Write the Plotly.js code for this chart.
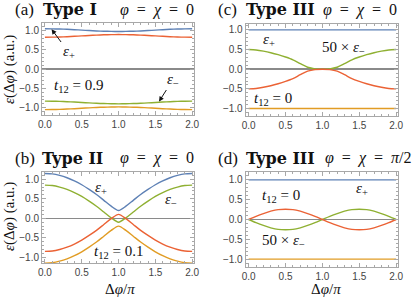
<!DOCTYPE html>
<html><head><meta charset="utf-8">
<script src="https://cdn.plot.ly/plotly-3.0.1.min.js"></script>
<style>html,body{margin:0;padding:0;background:#fff}#chart{width:415px;height:297px}</style>
</head><body><div id="chart"></div>
<script>
// shared x grid (Δφ/π)
const xs = [0,0.1,0.2,0.3,0.4,0.5,0.6,0.7,0.8,0.9,1.0,1.1,1.2,1.3,1.4,1.5,1.6,1.7,1.8,1.9,2.0];

// (a) Type I, t12 = 0.9
const aBlue   = [1.05,1.048,1.043,1.036,1.026,1.015,1.004,0.994,0.987,0.982,0.98,0.982,0.987,0.994,1.004,1.015,1.026,1.036,1.043,1.048,1.05];
const aRed    = [0.83,0.832,0.837,0.844,0.854,0.865,0.876,0.886,0.893,0.898,0.90,0.898,0.893,0.886,0.876,0.865,0.854,0.844,0.837,0.832,0.83];
const aGreen  = [-0.83,-0.832,-0.837,-0.844,-0.854,-0.865,-0.876,-0.886,-0.893,-0.898,-0.90,-0.898,-0.893,-0.886,-0.876,-0.865,-0.854,-0.844,-0.837,-0.832,-0.83];
const aOrange = [-1.05,-1.048,-1.043,-1.036,-1.026,-1.015,-1.004,-0.994,-0.987,-0.982,-0.98,-0.982,-0.987,-0.994,-1.004,-1.015,-1.026,-1.036,-1.043,-1.048,-1.05];

// (b) Type II, t12 = 0.1
const bBlue   = [1.15,1.14,1.10,1.04,0.96,0.86,0.74,0.61,0.46,0.31,0.20,0.31,0.46,0.61,0.74,0.86,0.96,1.04,1.10,1.14,1.15];
const bGreen  = [0.85,0.84,0.80,0.74,0.66,0.56,0.44,0.31,0.16,0.01,-0.10,0.01,0.16,0.31,0.44,0.56,0.66,0.74,0.80,0.84,0.85];
const bRed    = [-0.85,-0.84,-0.80,-0.74,-0.66,-0.56,-0.44,-0.31,-0.16,-0.01,0.10,-0.01,-0.16,-0.31,-0.44,-0.56,-0.66,-0.74,-0.80,-0.84,-0.85];
const bOrange = [-1.15,-1.14,-1.10,-1.04,-0.96,-0.86,-0.74,-0.61,-0.46,-0.31,-0.20,-0.31,-0.46,-0.61,-0.74,-0.86,-0.96,-1.04,-1.10,-1.14,-1.15];

// (c) Type III, φ = χ = 0, t12 = 0 (green/red are 50 × ε−)
const cBlue   = [1,1,1,1,1,1,1,1,1,1,1,1,1,1,1,1,1,1,1,1,1];
const cGreen  = [0.50,0.49,0.46,0.42,0.37,0.31,0.24,0.14,0.05,0.01,0.00,0.01,0.05,0.14,0.24,0.31,0.37,0.42,0.46,0.49,0.50];
const cRed    = [-0.50,-0.49,-0.46,-0.42,-0.37,-0.31,-0.24,-0.14,-0.05,-0.01,0.00,-0.01,-0.05,-0.14,-0.24,-0.31,-0.37,-0.42,-0.46,-0.49,-0.50];
const cOrange = [-1,-1,-1,-1,-1,-1,-1,-1,-1,-1,-1,-1,-1,-1,-1,-1,-1,-1,-1,-1,-1];

// (d) Type III, φ = χ = π/2, t12 = 0
const dBlue   = [1,1,1,1,1,1,1,1,1,1,1,1,1,1,1,1,1,1,1,1,1];
const dRed    = [0,0.08,0.15,0.21,0.25,0.26,0.25,0.21,0.15,0.08,0,-0.08,-0.15,-0.21,-0.25,-0.26,-0.25,-0.21,-0.15,-0.08,0];
const dGreen  = [0,-0.08,-0.15,-0.21,-0.25,-0.26,-0.25,-0.21,-0.15,-0.08,0,0.08,0.15,0.21,0.25,0.26,0.25,0.21,0.15,0.08,0];
const dOrange = [-1,-1,-1,-1,-1,-1,-1,-1,-1,-1,-1,-1,-1,-1,-1,-1,-1,-1,-1,-1,-1];

const tickVals = [-1.0,-0.5,0.0,0.5,1.0];
const xTickVals = [0.0,0.5,1.0,1.5,2.0];

const COL = {blue:'#5E81B5', orange:'#E19C24', green:'#8FB032', red:'#EB6235'};

function tr(y, color, xa, ya){
  return {x: xs, y: y, xaxis: xa, yaxis: ya, type:'scatter', mode:'lines',
          line:{color: color, width:1.4, shape:'spline', smoothing:0.8}, hoverinfo:'skip', showlegend:false};
}
const data = [
  tr(aBlue,COL.blue,'x','y'), tr(aOrange,COL.orange,'x','y'), tr(aGreen,COL.green,'x','y'), tr(aRed,COL.red,'x','y'),
  tr(cBlue,COL.blue,'x2','y2'), tr(cOrange,COL.orange,'x2','y2'), tr(cGreen,COL.green,'x2','y2'), tr(cRed,COL.red,'x2','y2'),
  tr(bBlue,COL.blue,'x3','y3'), tr(bOrange,COL.orange,'x3','y3'), tr(bGreen,COL.green,'x3','y3'), tr(bRed,COL.red,'x3','y3'),
  tr(dBlue,COL.blue,'x4','y4'), tr(dOrange,COL.orange,'x4','y4'), tr(dGreen,COL.green,'x4','y4'), tr(dRed,COL.red,'x4','y4')
];

const frame = '#a8a8a8';
const sans = "'Liberation Sans', Arial, sans-serif";
function xax(domain, anchor){
  return {domain: domain, anchor: anchor, range:[-0.04,2.025], showline:true, mirror:'ticks', linecolor:frame, linewidth:1,
    ticks:'inside', ticklen:4, tickcolor:frame, tickvals:xTickVals, tickformat:'.1f',
    minor:{ticks:'inside', ticklen:2, tickcolor:frame, dtick:0.1, tick0:0, showgrid:false},
    showgrid:false, zeroline:false, tickfont:{family:sans, size:10, color:'#444'}};
}
function yax(domain, anchor, range){
  return {domain: domain, anchor: anchor, range: range, showline:true, mirror:'ticks', linecolor:frame, linewidth:1,
    ticks:'inside', ticklen:4, tickcolor:frame, tickvals:tickVals, tickformat:'.1f',
    minor:{ticks:'inside', ticklen:2, tickcolor:frame, dtick:0.1, tick0:0, showgrid:false},
    showgrid:false, zeroline:true, zerolinecolor:'#8a8a8a', zerolinewidth:1.5,
    tickfont:{family:sans, size:10, color:'#444'}};
}
const L = [42/415, 194/415], R = [245.7/415, 398/415];
const layout = {
  width:415, height:297, margin:{l:0,r:0,t:0,b:0}, paper_bgcolor:'#fff', plot_bgcolor:'#fff', showlegend:false,
  xaxis: xax(L,'y'),  yaxis: yax([1-115/297, 1-23/297],'x',[-1.19,1.2]),
  xaxis2: xax(R,'y2'), yaxis2: yax([1-116/297, 1-24/297],'x2',[-1.19,1.15]),
  xaxis3: xax(L,'y3'), yaxis3: yax([1-263.3/297, 1-171.7/297],'x3',[-1.155,1.195]),
  xaxis4: xax(R,'y4'), yaxis4: yax([1-266.7/297, 1-172.3/297],'x4',[-1.19,1.19]),
  annotations: []
};
const serif = "'Liberation Serif', 'Times New Roman', serif";
const boldSerif = "'DejaVu Serif', serif";
function pa(text, px, py, size, xanchor, extra, fam){
  return Object.assign({text:text, xref:'paper', yref:'paper', x:px/415, y:1-py/297, xanchor:xanchor||'left', yanchor:'middle',
    showarrow:false, font:{family:fam||serif, size:size, color:'#111'}}, extra||{});
}
function da(text, xa, ya, x, y, size, xanchor){
  return {text:text, xref:xa, yref:ya, x:x, y:y, xanchor:xanchor||'left', yanchor:'middle', showarrow:false,
    font:{family:serif, size:size, color:'#111'}};
}
const A = layout.annotations;
const eq0 = '<i>φ</i>&nbsp;&nbsp;=&nbsp;&nbsp;<i>χ</i>&nbsp;&nbsp;=&nbsp;&nbsp;0';
const eqPi = '<i>φ</i>&nbsp;&nbsp;=&nbsp;&nbsp;<i>χ</i>&nbsp;&nbsp;=&nbsp;&nbsp;<i>π</i>/2';
// panel titles
A.push(pa('(a)', 13, 10, 17), pa('<b>Type I</b>', 41, 10, 16, 'left', null, boldSerif), pa(eq0, 196, 10, 16, 'right'));
A.push(pa('(c)', 216, 10, 17), pa('<b>Type III</b>', 244, 10, 16, 'left', null, boldSerif), pa(eq0, 399, 10, 16, 'right'));
A.push(pa('(b)', 13, 158, 17), pa('<b>Type II</b>', 40, 158, 16, 'left', null, boldSerif), pa(eq0, 196, 158, 16, 'right'));
A.push(pa('(d)', 216, 158, 17), pa('<b>Type III</b>', 244, 158, 16, 'left', null, boldSerif), pa(eqPi, 323, 158, 16, 'left'));
// y axis titles
A.push(pa('<i>ε</i>(Δ<i>φ</i>) (a.u.)', 9, 70, 15, 'center', {textangle:-90}));
A.push(pa('<i>ε</i>(Δ<i>φ</i>) (a.u.)', 9, 217, 15, 'center', {textangle:-90}));
// x axis titles
A.push(pa('Δ<i>φ</i>/<i>π</i>', 120, 289, 15, 'center'));
A.push(pa('Δ<i>φ</i>/<i>π</i>', 326, 289, 15, 'center'));
// (a) labels with arrows
A.push({text:'<i>ε</i><sub>+</sub>', xref:'x', yref:'y', x:0.09, y:1.04, ax:17, ay:23, showarrow:true, arrowhead:2, arrowsize:1, arrowwidth:1, arrowcolor:'#111',
        font:{family:serif, size:15, color:'#111'}});
A.push({text:'<i>ε</i><sub>−</sub>', xref:'x', yref:'y', x:1.55, y:-0.84, ax:14, ay:-22, showarrow:true, arrowhead:2, arrowsize:1, arrowwidth:1, arrowcolor:'#111',
        font:{family:serif, size:15, color:'#111'}});
A.push(da('<i>t</i><sub>12</sub> = 0.9', 'x','y', 0.095, -0.44, 15));
// (c)
A.push(da('<i>ε</i><sub>+</sub>', 'x2','y2', 0.17, 0.74, 15));
A.push(da('50 × <i>ε</i><sub>−</sub>', 'x2','y2', 0.97, 0.53, 15));
A.push(da('<i>t</i><sub>12</sub> = 0', 'x2','y2', 0.05, -0.76, 15));
// (b)
A.push(da('<i>ε</i><sub>+</sub>', 'x3','y3', 0.65, 0.78, 15));
A.push(da('<i>ε</i><sub>−</sub>', 'x3','y3', 1.6, 0.47, 15));
A.push(da('<i>t</i><sub>12</sub> = 0.1', 'x3','y3', 0.64, -0.86, 15));
// (d)
A.push(da('<i>t</i><sub>12</sub> = 0', 'x4','y4', 0.16, 0.59, 15));
A.push(da('<i>ε</i><sub>+</sub>', 'x4','y4', 1.43, 0.77, 15));
A.push(da('50 × <i>ε</i><sub>−</sub>', 'x4','y4', 0.16, -0.55, 15));

Plotly.newPlot('chart', data, layout, {staticPlot:true, displayModeBar:false});
</script></body></html>
